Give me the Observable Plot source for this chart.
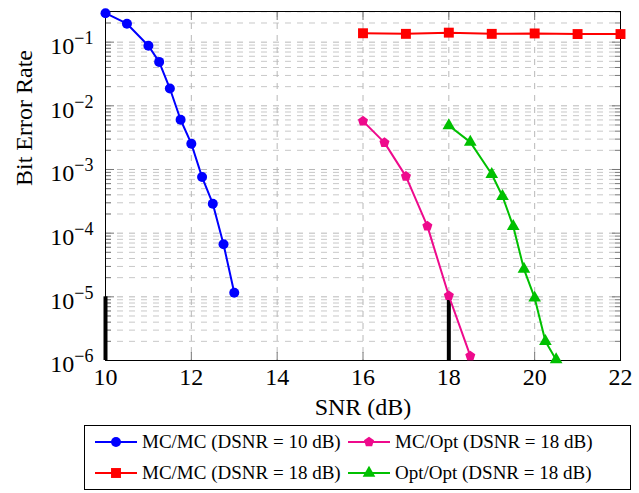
<!DOCTYPE html>
<html><head><meta charset="utf-8">
<script src="https://cdn.jsdelivr.net/npm/d3@7"></script>
<script src="https://cdn.jsdelivr.net/npm/@observablehq/plot@0.6"></script>
<style>
body{margin:0;background:#fff;font-family:"Liberation Serif","Times New Roman",Times,serif;}
#chart{position:absolute;left:0;top:0;}
#legend{position:absolute;left:84px;top:425px;width:547px;height:65px;border:1px solid #000;box-sizing:border-box;background:#fff;}
.item{position:absolute;display:flex;align-items:center;height:24px;font-size:19px;white-space:nowrap;font-family:"Liberation Serif","Times New Roman",Times,serif;}
.item svg{margin-right:4px;}
</style></head><body><div id="chart"></div><div id="legend"></div>
<script>
// ---- data ----
const snrBlue=[10,10.5,11,11.25,11.5,11.75,12,12.25,12.5,12.75,13];
const berBlue=[0.285,0.195,0.088,0.049,0.0187,0.00605,0.00254,7.6e-4,2.9e-4,6.7e-5,1.16e-5];
const snrRed=[16,17,18,19,20,21,22];
const berRed=[0.138,0.135,0.141,0.135,0.137,0.134,0.134];
const snrPink=[16,16.5,17,17.5,18,18.5];
const berPink=[5.75e-3,2.64e-3,7.8e-4,1.29e-4,1.04e-5,1.18e-6];
const snrGreen=[18,18.5,19,19.25,19.5,19.75,20,20.25,20.5];
const berGreen=[4.9e-3,2.69e-3,8.4e-4,3.8e-4,1.28e-4,2.73e-5,9.6e-6,2.0e-6,1.03e-6];
const barX=[10,18];
const barTop=[1e-5,1.04e-5];
const barBottom=[1e-6,1e-6];
const xTicks=[10,12,14,16,18,20,22];
const yDecades=[1e-6,1e-5,1e-4,1e-3,1e-2,1e-1];
const seriesNames=["MC/MC (DSNR = 10 dB)","MC/MC (DSNR = 18 dB)","MC/Opt (DSNR = 18 dB)","Opt/Opt (DSNR = 18 dB)"];
const seriesColors=["#0000ff","#ff0000","#ee0a8c","#00c000"];

const FONT='"Liberation Serif","Times New Roman",Times,serif';
const yTop=0.303;
const minorY=[];
yDecades.forEach(d=>{for(let k=2;k<=9;k++){const v=k*d; if(v<=yTop) minorY.push(v);}});

const pentagon={draw(ctx,size){const R=Math.sqrt(size/2.3776);for(let k=0;k<5;k++){const a=-Math.PI/2+k*2*Math.PI/5;const px=R*Math.cos(a),py=R*Math.sin(a);if(k)ctx.lineTo(px,py);else ctx.moveTo(px,py);}ctx.closePath();}};

const tbl=(xs,ys)=>xs.map((x,i)=>({x,y:ys[i]}));
const blue=tbl(snrBlue,berBlue),red=tbl(snrRed,berRed),pink=tbl(snrPink,berPink),green=tbl(snrGreen,berGreen);
const bars=barX.map((x,i)=>({x,y1:barBottom[i],y2:barTop[i]}));

const symbols=["circle","square",pentagon,"triangle"];
const radii=[5,5.6,4.6,4.7];
const datasets=[blue,red,pink,green];

const seriesMarks=[];
datasets.forEach((d,i)=>{
  seriesMarks.push(Plot.line(d,{x:"x",y:"y",stroke:seriesColors[i],strokeWidth:2}));
  seriesMarks.push(Plot.dot(d,{x:"x",y:"y",fill:seriesColors[i],stroke:"none",r:radii[i],symbol:()=>symbols[i]}));
});

const noText=()=>"";
const plot=Plot.plot({
  width:639,height:420,
  marginLeft:105,marginRight:19,marginTop:11,marginBottom:60,
  x:{domain:[10,22]},
  y:{type:"log",domain:[1e-6,yTop]},
  style:{fontFamily:FONT,fontSize:"22px",color:"#000",background:"#fff"},
  marks:[
    Plot.ruleY(minorY,{stroke:"#c8c8c8",strokeWidth:1,strokeDasharray:"6,6"}),
    Plot.ruleY(yDecades,{stroke:"#b8b8b8",strokeWidth:1,strokeDasharray:"6,6"}),
    Plot.ruleX(xTicks,{stroke:"#b8b8b8",strokeWidth:1,strokeDasharray:"6,6"}),
    Plot.axisX({ticks:xTicks,tickSize:-8,tickFormat:noText,label:null,stroke:"#777"}),
    Plot.axisX({anchor:"top",ticks:xTicks,tickSize:-8,tickFormat:noText,label:null,stroke:"#777"}),
    Plot.axisY({ticks:yDecades,tickSize:-9,tickFormat:noText,label:null,stroke:"#777"}),
    Plot.axisY({ticks:minorY,tickSize:-6,tickFormat:noText,label:null,stroke:"#777"}),
    Plot.axisY({anchor:"right",ticks:yDecades,tickSize:-9,tickFormat:noText,label:null,stroke:"#777"}),
    Plot.axisY({anchor:"right",ticks:minorY,tickSize:-6,tickFormat:noText,label:null,stroke:"#777"}),
    Plot.axisX({ticks:xTicks,tickSize:0,tickPadding:7,tickFormat:d=>String(d),label:null}),
    Plot.axisY({ticks:yDecades,tickSize:0,tickPadding:12,tickFormat:d=>"10^"+Math.round(Math.log10(d)),label:null,dy:4}),
    Plot.text(["SNR (dB)"],{text:d=>d,frameAnchor:"bottom",lineAnchor:"middle",dy:47}),
    Plot.text(["Bit Error Rate"],{text:d=>d,frameAnchor:"left",lineAnchor:"middle",dx:-81,rotate:-90}),
    Plot.frame({stroke:"#000",strokeWidth:1}),
    Plot.ruleX(bars,{x:"x",y1:"y1",y2:"y2",stroke:"#000",strokeWidth:4}),
    ...seriesMarks
  ]
});
document.getElementById("chart").appendChild(plot);

// force font on every text, superscript exponents on y tick labels
d3.select(plot).selectAll("text").each(function(){
  const el=d3.select(this);
  el.style("font-family",FONT).style("font-size","24px");
  const t=this.textContent;
  const m=/^10\^(-?\d+)$/.exec(t);
  if(!m) return;
  el.text("");
  el.append("tspan").text("10");
  el.append("tspan").attr("dy","-0.55em").style("font-size","18px").text("\u2212"+String(Math.abs(+m[1])));
});

// legend
const leg=document.getElementById("legend");
const pos=[[9,4],[9,35],[262,4],[262,35]];
const ns="http://www.w3.org/2000/svg";
seriesNames.forEach((name,i)=>{
  const div=document.createElement("div");
  div.className="item";
  div.style.left=pos[i][0]+"px";div.style.top=pos[i][1]+"px";
  const svg=document.createElementNS(ns,"svg");
  svg.setAttribute("width","44");svg.setAttribute("height","24");
  const ln=document.createElementNS(ns,"line");
  ln.setAttribute("x1","1");ln.setAttribute("x2","43");ln.setAttribute("y1","12");ln.setAttribute("y2","12");
  ln.setAttribute("stroke",seriesColors[i]);ln.setAttribute("stroke-width","2");
  svg.appendChild(ln);
  const p=document.createElementNS(ns,"path");
  const sym=typeof symbols[i]==="string"?({circle:d3.symbolCircle,square:d3.symbolSquare,triangle:d3.symbolTriangle})[symbols[i]]:symbols[i];
  p.setAttribute("d",d3.symbol(sym,Math.PI*radii[i]*radii[i])());
  p.setAttribute("transform","translate(22,12)");
  p.setAttribute("fill",seriesColors[i]);
  svg.appendChild(p);
  div.appendChild(svg);
  const sp=document.createElement("span");sp.textContent=name;
  div.appendChild(sp);
  leg.appendChild(div);
});
</script></body></html>
